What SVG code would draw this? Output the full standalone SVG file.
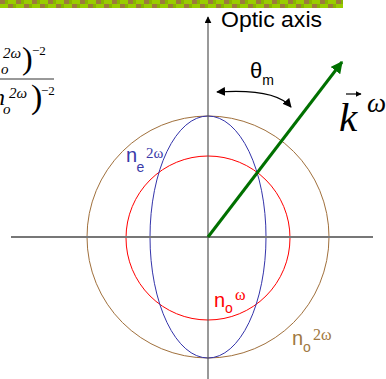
<svg xmlns="http://www.w3.org/2000/svg" width="386" height="379" viewBox="0 0 386 379">
<defs>
<pattern id="chk" x="0" y="0" width="16" height="8" patternUnits="userSpaceOnUse">
<rect width="16" height="8" fill="#99cc00"/>
<rect x="0" y="0" width="5" height="4" fill="#9c7a3c"/>
<rect x="8" y="4" width="5" height="4" fill="#9c7a3c"/>
<rect x="5" y="0" width="3" height="4" fill="#88b400"/>
<rect x="13" y="4" width="3" height="4" fill="#88b400"/>
</pattern>
<marker id="ahBlack" viewBox="0 0 10 10" refX="9" refY="5" markerWidth="7" markerHeight="7" markerUnits="userSpaceOnUse" orient="auto">
<path d="M0,0 L10,5 L0,10 z" fill="#000"/>
</marker>
<marker id="ahBlackS" viewBox="0 0 10 10" refX="9" refY="5" markerWidth="9" markerHeight="9" markerUnits="userSpaceOnUse" orient="auto-start-reverse">
<path d="M0,0 L10,5 L0,10 z" fill="#000"/>
</marker>
<marker id="ahGreen" viewBox="0 0 10 10" refX="9" refY="5" markerWidth="12" markerHeight="12" markerUnits="userSpaceOnUse" orient="auto">
<path d="M0,0 L10,5 L0,10 z" fill="#007000"/>
</marker>
<marker id="ahSmall" viewBox="0 0 10 10" refX="9" refY="5" markerWidth="6" markerHeight="6" markerUnits="userSpaceOnUse" orient="auto">
<path d="M0,0 L10,5 L0,10 z" fill="#000"/>
</marker>
</defs>
<style>
.tm{font-family:"Liberation Serif","Times New Roman",serif;font-style:italic;fill:#000}
.up{font-style:normal}
.ss{font-family:"Liberation Sans",Arial,sans-serif}
.sf{font-family:"Liberation Serif","Times New Roman",serif}
.blue{fill:#3a3aa8}
.red{fill:#ff0000}
.brown{fill:#a07840}
</style>
<rect id="band" x="0" y="0" width="343" height="8" fill="url(#chk)"/>

<g id="formula">
<text class="tm" x="3" y="58" font-size="15">2ω</text>
<text class="tm" x="1" y="74" font-size="15">o</text>
<text class="tm up" x="22" y="69" font-size="32">)</text>
<text class="tm up" x="32" y="55" font-size="13">−2</text>
<line x1="0" y1="79" x2="54" y2="79" stroke="#333" stroke-width="1"/>
<text class="tm" x="-7" y="105" font-size="24">n</text>
<text class="tm" x="9" y="98" font-size="15">2ω</text>
<text class="tm" x="3" y="114" font-size="15">o</text>
<text class="tm up" x="31" y="108" font-size="34">)</text>
<text class="tm up" x="41" y="95" font-size="13">−2</text>
</g>

<g id="curves" fill="none">
<circle id="no2w" cx="208" cy="237" r="121" stroke="#a0703c" stroke-width="1"/>
<circle id="now" cx="208" cy="238" r="82" stroke="#ff0000" stroke-width="1"/>
<ellipse id="ne2w" cx="208" cy="237" rx="58" ry="121" stroke="#3333aa" stroke-width="1"/>
</g>

<g id="connectors" fill="none">
<line id="h-axis" x1="11" y1="237" x2="373" y2="237" stroke="#777" stroke-width="2"/>
<line id="optic-axis" x1="208" y1="379" x2="208" y2="17" stroke="#555" stroke-width="1.2" marker-end="url(#ahBlack)"/>
<line id="k-vector" x1="208" y1="237" x2="342" y2="62" stroke="#007000" stroke-width="3" marker-end="url(#ahGreen)"/>
<path id="theta-arc" d="M217,92 Q275,88 291,107" stroke="#000" stroke-width="1.2" marker-start="url(#ahBlackS)" marker-end="url(#ahBlackS)"/>
<line id="k-arrow" x1="346" y1="94" x2="361" y2="94" stroke="#000" stroke-width="1.2" marker-end="url(#ahSmall)"/>
</g>

<g id="labels">
<text class="ss" x="221" y="27" font-size="22" textLength="101" lengthAdjust="spacingAndGlyphs">Optic axis</text>
<text class="ss" x="250" y="78" font-size="22">θ<tspan font-size="14" dy="7">m</tspan></text>
<text class="tm" x="339" y="131" font-size="41">k</text>
<text class="tm" x="367" y="112" font-size="27">ω</text>
<g id="label-ne2w">
<text class="ss blue" x="126" y="162" font-size="20">n</text>
<text class="ss blue" x="136.5" y="172" font-size="14">e</text>
<text class="sf blue" x="146" y="158" font-size="15">2ω</text>
</g>
<g id="label-now">
<text class="ss red" x="214" y="307" font-size="20">n</text>
<text class="ss red" x="225" y="313" font-size="14">o</text>
<text class="sf red" x="235" y="300" font-size="16">ω</text>
</g>
<g id="label-no2w">
<text class="ss brown" x="292" y="345" font-size="20">n</text>
<text class="ss brown" x="303" y="352" font-size="14">o</text>
<text class="sf brown" x="313" y="340" font-size="16">2ω</text>
</g>
</g>
</svg>
